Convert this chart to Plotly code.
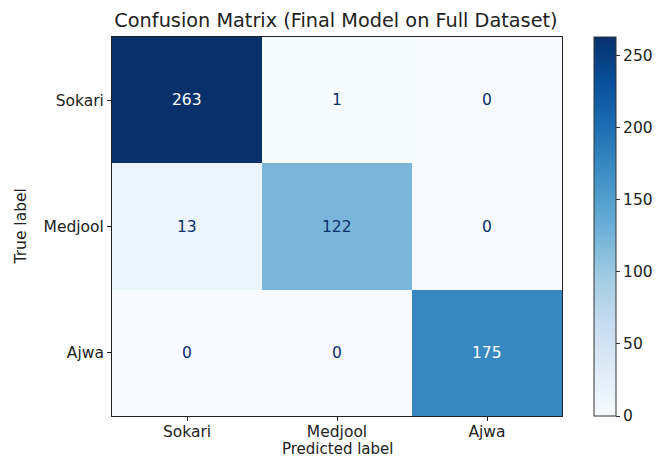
import plotly.graph_objects as go
import plotly.colors as pc

labels = ["Sokari", "Medjool", "Ajwa"]
matrix = [[263, 1, 0],
          [13, 122, 0],
          [0, 0, 175]]
cbar_ticks = [0, 50, 100, 150, 200, 250]

blues = pc.sequential.Blues
scale = [[i / (len(blues) - 1), c] for i, c in enumerate(blues)]

vmax = max(max(r) for r in matrix)
vmin = min(min(r) for r in matrix)
thresh = (vmax + vmin) / 2

W, H = 657, 459
L, R, T, B = 112, 0, 37, 43
paper_w = W - L - R
plot_right = 562
FS = 15.5

fig = go.Figure(go.Heatmap(
    z=matrix, x=labels, y=labels, colorscale=scale, zmin=vmin, zmax=vmax,
    colorbar=dict(thickness=22, thicknessmode="pixels", len=1.0, lenmode="fraction",
                  y=0.5, yanchor="middle", ypad=0, xpad=0,
                  x=(594 - L) / paper_w, xanchor="left",
                  outlinewidth=1, outlinecolor="#333",
                  tickvals=cbar_ticks, ticks="outside", ticklen=4, tickcolor="#333",
                  tickfont=dict(family="DejaVu Sans", size=FS, color="#222")),
    hoverinfo="skip",
))

for i, row in enumerate(matrix):
    for j, v in enumerate(row):
        fig.add_annotation(x=labels[j], y=labels[i], text=str(v), showarrow=False,
                           font=dict(family="DejaVu Sans", size=FS,
                                     color="white" if v > thresh else "#08306b"))

x_dom_end = (plot_right - L) / paper_w
# axis titles as annotations for precise placement
fig.add_annotation(text="Predicted label", xref="paper", yref="paper",
                   x=x_dom_end / 2, y=0, xanchor="center", yanchor="bottom",
                   yshift=-B, borderpad=0, showarrow=False,
                   font=dict(family="DejaVu Sans", size=15, color="#222"))
fig.add_annotation(text="True label", xref="paper", yref="paper",
                   x=0, y=0.5, xanchor="center", yanchor="middle", textangle=-90,
                   xshift=-(L - 20), showarrow=False,
                   font=dict(family="DejaVu Sans", size=FS, color="#222"))

fig.update_layout(
    width=W, height=H,
    margin=dict(l=L, r=R, t=T, b=B, autoexpand=False),
    paper_bgcolor="white", plot_bgcolor="white",
    font=dict(family="DejaVu Sans", size=FS, color="#222"),
    title=dict(text="Confusion Matrix (Final Model on Full Dataset)",
               x=(112 + 560) / 2 / W, xref="container",
               xanchor="center", y=1 - 20 / H, yref="container", yanchor="middle",
               font=dict(size=19.3, color="#222")),
)
fig.update_xaxes(domain=[0, x_dom_end], ticklabelstandoff=-3,
                 showline=True, mirror=True, linecolor="#222", linewidth=1,
                 ticks="outside", ticklen=4, tickcolor="#222", showgrid=False, zeroline=False)
fig.update_yaxes(autorange="reversed",
                 showline=True, mirror=True, linecolor="#222", linewidth=1,
                 ticks="outside", ticklen=4, tickcolor="#222", showgrid=False, zeroline=False)

fig.write_html("out.html", config={"displayModeBar": False},
               post_script="document.body.style.margin='0';document.body.style.padding='0';")
